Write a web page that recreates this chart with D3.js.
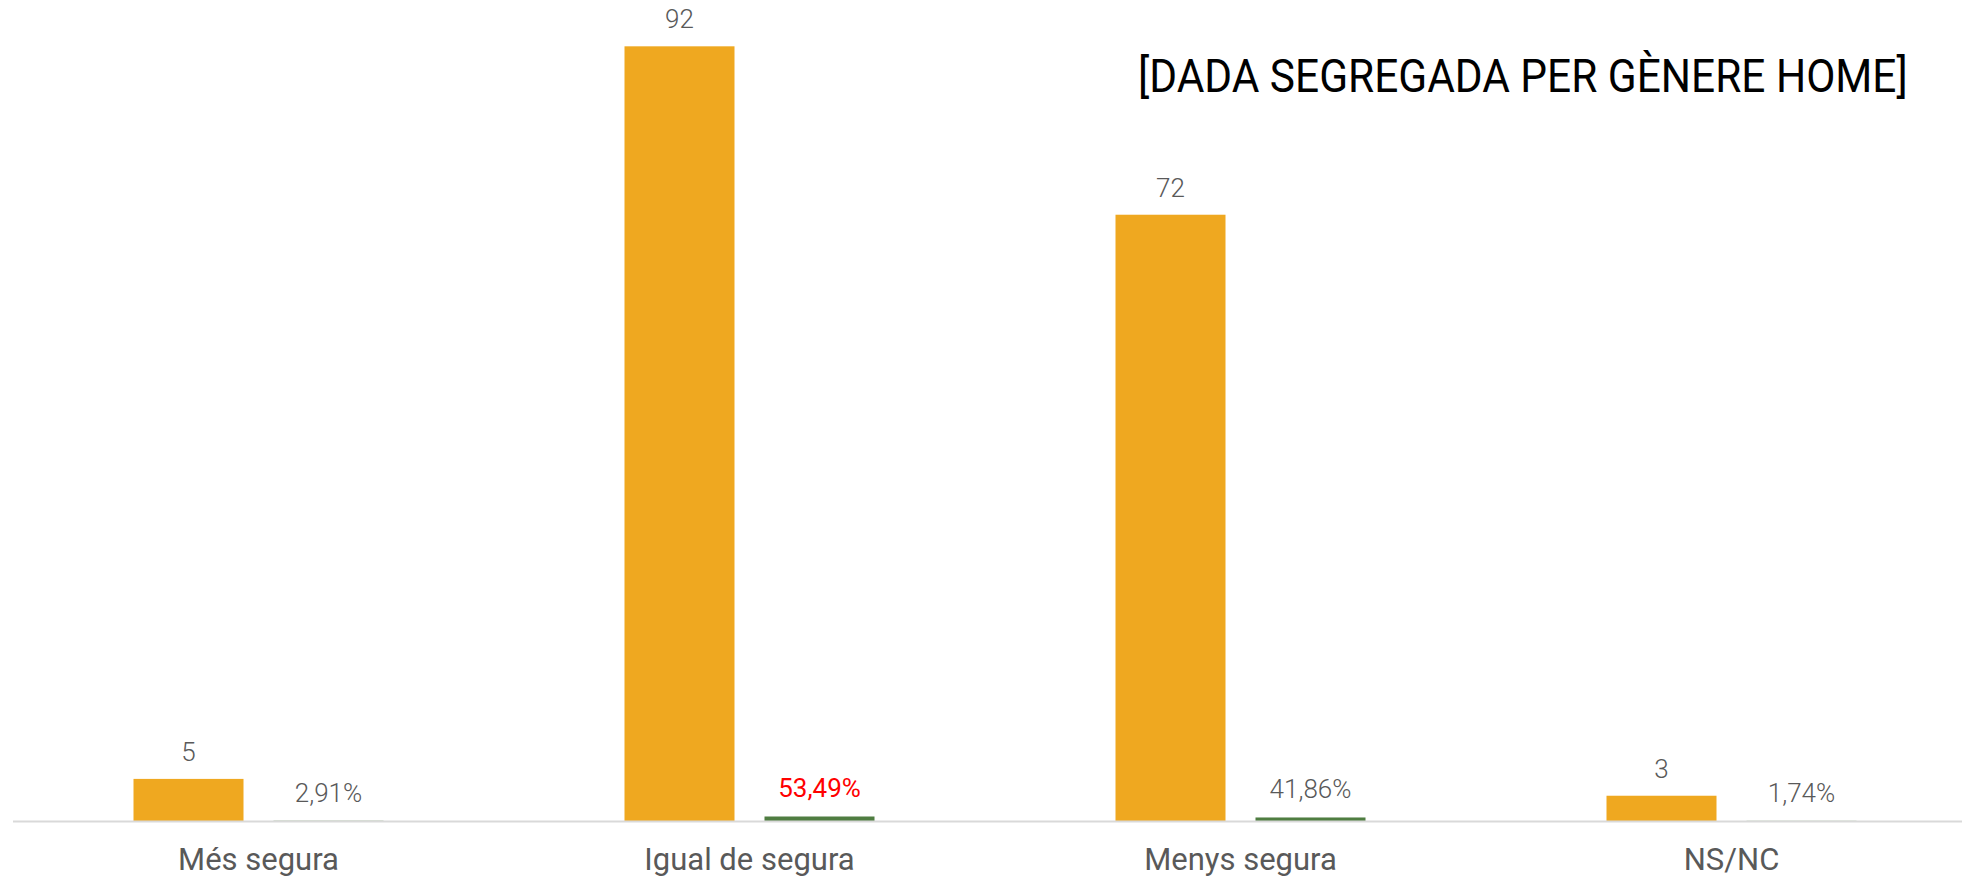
<!DOCTYPE html>
<html>
<head>
<meta charset="utf-8">
<script src="https://cdn.jsdelivr.net/npm/d3@7"></script>
<style>
  body { margin: 0; background: #fff; }
  svg { display: block; font-family: Roboto, "Noto Sans", sans-serif; }
</style>
</head>
<body>
<div id="chart"></div>
<script>
// data
var categories = ["Més segura", "Igual de segura", "Menys segura", "NS/NC"];
var counts = [5, 92, 72, 3];
var shares = [0.0291, 0.5349, 0.4186, 0.0174];
var shareLabels = ["2,91%", "53,49%", "41,86%", "1,74%"];
var highlight = "Igual de segura";
var title = "[DADA SEGREGADA PER GÈNERE HOME]";

var width = 1962, height = 882;
var margin = {top: 0, right: -15, bottom: 61, left: 13};

var svg = d3.select("#chart").append("svg")
    .attr("width", width)
    .attr("height", height);

var x = d3.scaleBand()
    .domain(categories)
    .range([margin.left, width - margin.right]);

// two bars per category: count and share
var inner = d3.scaleBand()
    .domain(["count", "share"])
    .range([0, x.bandwidth()])
    .paddingInner(0.2143)
    .paddingOuter(0.8607);

var y = d3.scaleLinear()
    .domain([0, 97.5])
    .range([height - margin.bottom, 0]);

var g = svg.append("g");

// count bars
g.selectAll(".count")
    .data(categories)
    .enter().append("rect")
    .attr("class", "count")
    .attr("x", function (d) { return x(d) + inner("count"); })
    .attr("y", function (d, i) { return y(counts[i]); })
    .attr("width", inner.bandwidth())
    .attr("height", function (d, i) { return y(0) - y(counts[i]); })
    .attr("fill", "#efa820");

// share bars (same axis, so they are thin)
g.selectAll(".share")
    .data(categories)
    .enter().append("rect")
    .attr("class", "share")
    .attr("x", function (d) { return x(d) + inner("share"); })
    .attr("y", function (d, i) { return y(shares[i]); })
    .attr("width", inner.bandwidth())
    .attr("height", function (d, i) { return y(0) - y(shares[i]); })
    .attr("fill", "#4f7d41");

// baseline
svg.append("line")
    .attr("x1", margin.left)
    .attr("x2", width)
    .attr("y1", y(0) + 0.5)
    .attr("y2", y(0) + 0.5)
    .attr("stroke", "#d9d9d9")
    .attr("stroke-width", 2);

// count labels
g.selectAll(".count-label")
    .data(categories)
    .enter().append("text")
    .attr("class", "count-label")
    .attr("x", function (d) { return x(d) + inner("count") + inner.bandwidth() / 2; })
    .attr("y", function (d, i) { return y(counts[i]) - 18; })
    .attr("text-anchor", "middle")
    .style("font-size", "26px")
    .style("font-weight", 300)
    .attr("fill", "#595959")
    .text(function (d, i) { return counts[i]; });

// share labels
g.selectAll(".share-label")
    .data(categories)
    .enter().append("text")
    .attr("class", "share-label")
    .attr("x", function (d) { return x(d) + inner("share") + inner.bandwidth() / 2; })
    .attr("y", function (d, i) { return y(shares[i]) - 19; })
    .attr("text-anchor", "middle")
    .style("font-size", "26px")
    .style("font-weight", function (d) { return d == highlight ? 400 : 300; })
    .attr("fill", function (d) { return d == highlight ? "#ff0000" : "#595959"; })
    .text(function (d, i) { return shareLabels[i]; });

// category axis
var xAxis = svg.append("g")
    .attr("transform", "translate(0," + (y(0) + 49) + ")")
    .call(d3.axisBottom(x).tickSize(0).tickPadding(0));
xAxis.select(".domain").remove();
xAxis.selectAll("text")
    .attr("dy", 0)
    .style("font-family", "Roboto, sans-serif")
    .style("font-size", "31px")
    .attr("fill", "#595959");

// title, squeezed a little horizontally to fit its box
var titleEl = svg.append("text")
    .attr("x", 0)
    .attr("y", 0)
    .style("font-size", "47px")
    .attr("fill", "#000")
    .text(title);
var natural = titleEl.node().getComputedTextLength();
var sx = Math.min(1, 770 / natural);
titleEl.attr("transform", "translate(1138,92) scale(" + sx + ",1)");
</script>
</body>
</html>
